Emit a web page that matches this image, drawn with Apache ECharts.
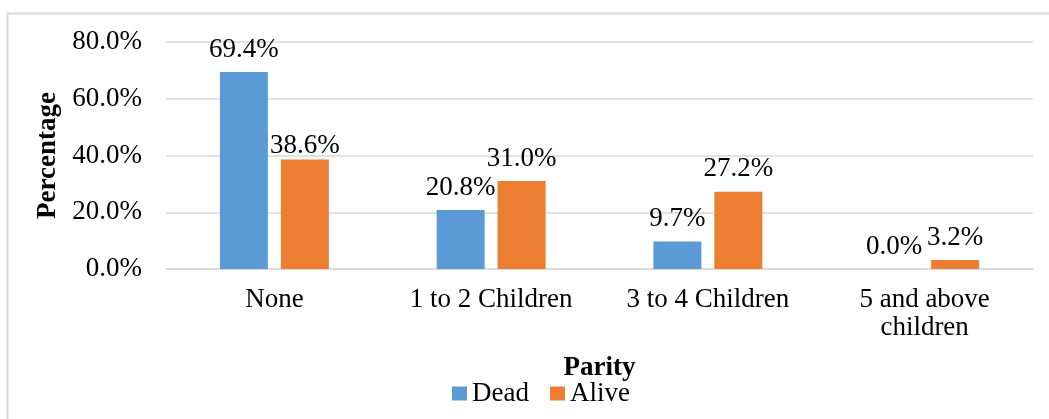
<!DOCTYPE html>
<html>
<head>
<meta charset="utf-8">
<script src="https://cdn.jsdelivr.net/npm/echarts@6/dist/echarts.min.js"></script>
<style>
  html, body { margin: 0; padding: 0; background: #fff; }
  #chart { width: 1049px; height: 419px; }
</style>
</head>
<body>
<div id="chart"></div>
<script>
// Parity groups and outcome percentages
const categories = ['None', '1 to 2 Children', '3 to 4 Children', '5 and above\nchildren'];
const deadValues = [69.4, 20.8, 9.7, 0.0];
const aliveValues = [38.6, 31.0, 27.2, 3.2];
const yTicks = [0, 20, 40, 60, 80];

const FONT = "'Liberation Serif', 'Times New Roman', serif";
const FS = 27;
const BLUE = '#5B9BD5';
const ORANGE = '#ED7D31';
const GRID = '#D9D9D9';

const chart = echarts.init(document.getElementById('chart'));

const pct = v => Number(v).toFixed(1) + '%';

const valueLabel = {
  show: true,
  position: 'top',
  distance: 9,
  color: '#000',
  fontFamily: FONT,
  fontSize: FS,
  formatter: p => pct(p.value)
};

// The first "Alive" label sits closer to its bar
const aliveData = aliveValues.map((v, i) =>
  i === 0 ? { value: v, label: { distance: 0 } } : v
);

chart.setOption({
  animation: false,
  backgroundColor: '#fff',
  textStyle: { fontFamily: FONT, color: '#000' },
  graphic: [{
    type: 'rect',
    shape: { x: 7.5, y: 13.5, width: 1100, height: 500 },
    style: { fill: 'none', stroke: GRID, lineWidth: 2 },
    silent: true
  }],
  grid: { left: 166, right: 16, top: 42, bottom: 150 },
  legend: {
    data: ['Dead', 'Alive'],
    left: 447,
    top: 375,
    icon: 'rect',
    itemWidth: 15,
    itemHeight: 14,
    itemGap: 21,
    textStyle: { fontFamily: FONT, fontSize: FS, color: '#000' }
  },
  xAxis: {
    type: 'category',
    data: categories,
    name: 'Parity',
    nameLocation: 'middle',
    nameGap: 86,
    nameTextStyle: { fontFamily: FONT, fontSize: FS, fontWeight: 'bold', color: '#000' },
    axisLine: { show: true, lineStyle: { color: GRID, width: 1.5 } },
    axisTick: { show: false },
    axisLabel: {
      margin: 17,
      color: '#000',
      fontFamily: FONT,
      fontSize: FS,
      lineHeight: 28,
      interval: 0
    }
  },
  yAxis: {
    type: 'value',
    min: yTicks[0],
    max: yTicks[yTicks.length - 1],
    interval: 20,
    name: 'Percentage',
    nameLocation: 'middle',
    nameRotate: 90,
    nameGap: 104,
    nameTextStyle: { fontFamily: FONT, fontSize: FS, fontWeight: 'bold', color: '#000' },
    axisLine: { show: false },
    axisTick: { show: false },
    splitLine: { lineStyle: { color: GRID, width: 1.5 } },
    axisLabel: {
      margin: 24,
      color: '#000',
      fontFamily: FONT,
      fontSize: FS,
      formatter: v => pct(v)
    }
  },
  series: [
    {
      name: 'Dead',
      type: 'bar',
      data: deadValues,
      barWidth: 48,
      barGap: '27%',
      itemStyle: { color: BLUE },
      label: valueLabel
    },
    {
      name: 'Alive',
      type: 'bar',
      data: aliveData,
      barWidth: 48,
      barGap: '27%',
      itemStyle: { color: ORANGE },
      label: valueLabel
    }
  ]
});
</script>
</body>
</html>
